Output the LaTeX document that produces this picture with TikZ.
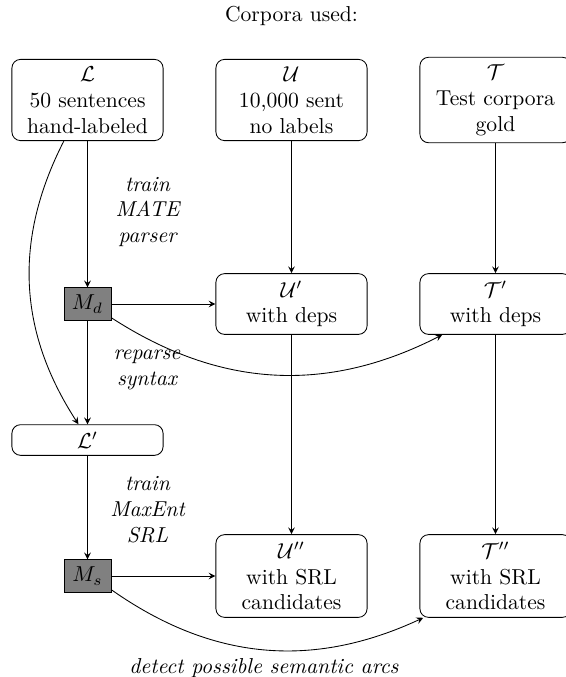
\documentclass[tikz,border=0pt]{standalone}
\usepackage{tikz}

\begin{document}
\begin{tikzpicture}[x=0.463pt,y=0.463pt,yscale=-1,xscale=1,>=stealth,
	corpus/.style={draw,rounded corners,align=center,minimum width=70pt},
	model/.style={draw,fill=gray,minimum width=21.8pt,minimum height=14.8pt},
	step label/.style={align=center,font=\itshape}]
			\useasboundingbox (0,0) rectangle (565,677);
			
			\draw (291.5,16) node (title) {Corpora used:};
			\draw (87.5,100) node (L) [corpus] {$\mathcal{L}$\\50 sentences\\hand-labeled};
			\draw (291.5,100) node (U) [corpus] {$\mathcal{U}$\\10,000 sent\\no labels};
			\draw (495.5,100) node (T) [corpus] {$\mathcal{T}$\\Test corpora\\gold};
			\draw (87.5,304) node (Md) [model] {$M_d$};
			\draw (291.5,304) node (U1) [corpus] {$\mathcal{U}'$\\with deps};
			\draw (495.5,304) node (T1) [corpus] {$\mathcal{T}'$\\with deps};
			\draw (87.5,440) node (L1) [corpus] {$\mathcal{L}'$};
			\draw (87.5,576) node (Ms) [model] {$M_s$};
			\draw (291.5,576) node (U2) [corpus] {$\mathcal{U}''$\\with SRL\\candidates};
			\draw (495.5,576) node (T2) [corpus] {$\mathcal{T}''$\\with SRL\\candidates};
			
			\draw[->] (L) -- (Md);
			\draw[->] (Md) -- (L1);
			\draw[->] (L1) -- (Ms);
			\draw[->] (U) -- (U1);
			\draw[->] (U1) -- (U2);
			\draw[->] (T) -- (T1);
			\draw[->] (T1) -- (T2);
			\draw[->] (Md) -- (U1);
			\draw[->] (Ms) -- (U2);
			\draw[->] (L) to[bend left] (L1);
			\draw[->] (Md) to[bend left] (T1);
			\draw[->] (Ms) to[bend left] (T2);
			
			\draw (147.5,212) node (trainMate) [step label] {train\\MATE\\parser};
			\draw (147,370) node (reparse) [step label] {reparse\\syntax};
			\draw (147.5,510) node (trainSrl) [step label] {train\\MaxEnt\\SRL};
			\draw (264,668) node (detect) [step label] {detect possible semantic arcs};
\end{tikzpicture}
\end{document}
